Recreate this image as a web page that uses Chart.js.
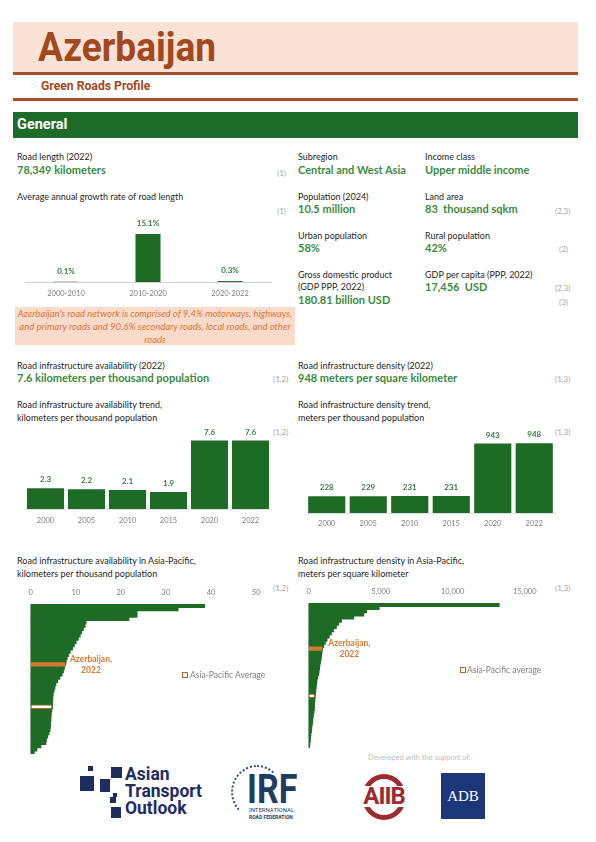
<!DOCTYPE html>
<html><head><meta charset="utf-8">
<script src="https://cdn.jsdelivr.net/npm/chart.js@4.4.0/dist/chart.umd.min.js"></script>
<style>
html,body{margin:0;padding:0;background:#fff;}
#page{position:relative;width:596px;height:842px;overflow:hidden;font-family:Lato,"Open Sans",sans-serif;}
.t{position:absolute;white-space:nowrap;line-height:12px;}
.lab{font-size:9px;color:#262626;}
.val{font-size:11px;font-weight:700;color:#3B8A3F;}
.ref{font-size:8px;color:#a6a6a6;}
.box{position:absolute;}
canvas{position:absolute;}
.sq{position:absolute;background:#1E2D5F;}
</style></head>
<body><div id="page">
<!-- header -->
<div class="box" style="left:13px;top:22px;width:565px;height:51px;background:#FBE2D6"></div>
<div class="box" style="left:13px;top:72px;width:565px;height:3px;background:#A0522D"></div>
<div class="t" style="left:38px;top:26px;font-family:Roboto,sans-serif;font-weight:700;font-size:40px;line-height:44px;color:#A3481D;transform:scaleX(0.927);transform-origin:0 0">Azerbaijan</div>
<div class="t" style="left:41px;top:80px;font-family:Roboto,sans-serif;font-weight:700;font-size:12.2px;color:#A3481D">Green Roads Profile</div>
<div class="box" style="left:13px;top:98px;width:565px;height:3px;background:#A0522D"></div>
<div class="box" style="left:13px;top:112px;width:565px;height:26px;background:#1E6B2A"></div>
<div class="t" style="left:17px;top:117px;font-family:Roboto,sans-serif;font-weight:700;font-size:14.5px;line-height:16px;color:#fff">General</div>

<!-- general left -->
<div class="t lab" style="left:17px;top:151px">Road length (2022)</div>
<div class="t val" style="left:17px;top:164px">78,349 kilometers</div>
<div class="t ref" style="left:277px;top:167px">(1)</div>
<div class="t lab" style="left:17px;top:191px">Average annual growth rate of road length</div>
<div class="t ref" style="left:277px;top:205px">(1)</div>
<canvas id="growth" width="256" height="88" style="left:20px;top:214px"></canvas>
<div class="box" style="left:15px;top:307px;width:280px;height:38px;background:#FADBC9"></div>
<div class="t" style="left:10px;top:307px;width:290px;text-align:center;font-style:italic;font-size:9.5px;line-height:13.2px;color:#D9763B">Azerbaijan's road network is comprised of 9.4% motorways, highways,<br>and primary roads and 90.6% secondary roads, local roads, and other<br>roads</div>

<!-- general right -->
<div class="t lab" style="left:298px;top:151px">Subregion</div>
<div class="t val" style="left:298px;top:164px">Central and West Asia</div>
<div class="t lab" style="left:425px;top:151px">Income class</div>
<div class="t val" style="left:425px;top:164px">Upper middle income</div>
<div class="t lab" style="left:298px;top:191px">Population (2024)</div>
<div class="t val" style="left:298px;top:203px">10.5 million</div>
<div class="t lab" style="left:425px;top:191px">Land area</div>
<div class="t val" style="left:425px;top:203px">83&nbsp; thousand sqkm</div>
<div class="t ref" style="left:555px;top:205px">(2,3)</div>
<div class="t lab" style="left:298px;top:230px">Urban population</div>
<div class="t val" style="left:298px;top:242px">58%</div>
<div class="t lab" style="left:425px;top:230px">Rural population</div>
<div class="t val" style="left:425px;top:242px">42%</div>
<div class="t ref" style="left:559px;top:243px">(2)</div>
<div class="t lab" style="left:298px;top:269px">Gross domestic product</div>
<div class="t lab" style="left:298px;top:281px">(GDP PPP, 2022)</div>
<div class="t val" style="left:298px;top:294px">180.81 billion USD</div>
<div class="t lab" style="left:425px;top:269px">GDP per capita (PPP, 2022)</div>
<div class="t val" style="left:425px;top:281px">17,456&nbsp; USD</div>
<div class="t ref" style="left:555px;top:282px">(2,3)</div>
<div class="t ref" style="left:559px;top:296px">(3)</div>

<!-- section 2 -->
<div class="t lab" style="left:17px;top:360px">Road infrastructure availability (2022)</div>
<div class="t val" style="left:17px;top:372px">7.6 kilometers per thousand population</div>
<div class="t ref" style="left:273px;top:373px">(1,2)</div>
<div class="t lab" style="left:17px;top:399px">Road infrastructure availability trend,</div>
<div class="t lab" style="left:17px;top:412px">kilometers per thousand population</div>
<div class="t ref" style="left:273px;top:426px">(1,2)</div>
<canvas id="trendAvail" width="256" height="105" style="left:20px;top:424px"></canvas>

<div class="t lab" style="left:298px;top:360px">Road infrastructure density (2022)</div>
<div class="t val" style="left:298px;top:372px">948 meters per square kilometer</div>
<div class="t ref" style="left:555px;top:373px">(1,3)</div>
<div class="t lab" style="left:298px;top:399px">Road infrastructure density trend,</div>
<div class="t lab" style="left:298px;top:412px">meters per thousand population</div>
<div class="t ref" style="left:555px;top:426px">(1,3)</div>
<canvas id="trendDensity" width="258" height="106" style="left:301px;top:427px"></canvas>

<!-- section 3 -->
<div class="t lab" style="left:17px;top:555px">Road infrastructure availability in Asia-Pacific,</div>
<div class="t lab" style="left:17px;top:568px">kilometers per thousand population</div>
<div class="t ref" style="left:273px;top:582px">(1,2)</div>
<canvas id="apAvail" width="245" height="174" style="left:22px;top:580px"></canvas>
<div class="box" style="left:182px;top:672px;width:4px;height:4px;border:1px solid #B5652E;background:#fff"></div>
<div class="t" style="left:190px;top:669px;font-size:8.5px;color:#7f7f7f">Asia-Pacific Average</div>

<div class="t lab" style="left:298px;top:555px">Road infrastructure density in Asia-Pacific,</div>
<div class="t lab" style="left:298px;top:568px">meters per square kilometer</div>
<div class="t ref" style="left:555px;top:582px">(1,3)</div>
<canvas id="apDensity" width="243" height="169" style="left:300px;top:579px"></canvas>
<div class="box" style="left:460px;top:667px;width:4px;height:4px;border:1px solid #B5652E;background:#fff"></div>
<div class="t" style="left:467px;top:664px;font-size:8.5px;color:#7f7f7f">Asia-Pacific average</div>

<!-- footer -->
<div class="t" style="left:368px;top:752px;font-size:7.5px;color:#bdbdbd">Developed with the support of:</div>
<div class="sq" style="left:88px;top:766px;width:5px;height:5px"></div>
<div class="sq" style="left:80px;top:776px;width:14px;height:15px"></div>
<div class="sq" style="left:111px;top:767px;width:11px;height:11px"></div>
<div class="sq" style="left:100px;top:779px;width:10px;height:13px"></div>
<div class="sq" style="left:113px;top:793px;width:4px;height:4px"></div>
<div class="sq" style="left:110px;top:797px;width:6px;height:6px"></div>
<div class="sq" style="left:111px;top:807px;width:10px;height:11px"></div>
<div class="t" style="left:125px;top:766px;font-family:Roboto,sans-serif;font-weight:700;font-size:17.5px;line-height:17px;color:#1E2D5F">Asian<br>Transport<br>Outlook</div>
<div class="box" style="left:231px;top:765px;width:48px;height:50px;border-radius:50%;border:2px dotted #2F5373;border-right-color:transparent;border-bottom-color:transparent"></div>
<div class="t" style="left:247px;top:772px;font-family:Roboto,sans-serif;font-weight:700;font-size:40px;line-height:36px;color:#1F3D5E;transform:scaleX(0.85);transform-origin:0 0">IRF</div>
<div class="t" style="left:249px;top:806px;font-family:Roboto,sans-serif;font-size:6px;line-height:7px;color:#1F3D5E">INTERNATIONAL</div>
<div class="t" style="left:249px;top:814px;font-family:Roboto,sans-serif;font-weight:700;font-size:5px;line-height:6px;color:#1F3D5E">ROAD FEDERATION</div>
<div class="box" style="left:362px;top:774px;width:44px;height:46px;box-sizing:border-box;border:5px solid #9C2A2E;border-radius:50%"></div>
<div class="box" style="left:356px;top:786px;width:56px;height:21px;background:#fff"></div>
<div class="t" style="left:358px;top:784px;width:52px;text-align:center;font-family:Roboto,sans-serif;font-weight:700;font-size:24px;line-height:24px;color:#9C2A2E;letter-spacing:-1px">AIIB</div>
<div class="box" style="left:441px;top:773px;width:44px;height:46px;background:#1B3679"></div>
<div class="t" style="left:441px;top:773px;width:44px;text-align:center;font-family:'Liberation Serif','DejaVu Serif',serif;font-size:15px;line-height:46px;color:#fff">ADB</div>
</div>

<script>
// ---------- data ----------
const growthPeriods = ['2000-2010', '2010-2020', '2020-2022'];
const growthRates = [0.1, 15.1, 0.3];

const trendYears = ['2000', '2005', '2010', '2015', '2020', '2022'];
const availTrend = [2.3, 2.2, 2.1, 1.9, 7.6, 7.6];
const densityTrend = [228, 229, 231, 231, 943, 948];

// Asia-Pacific economies sorted descending (km per thousand population)
const apAvailValues = [38.5, 32.6, 23.5, 23.5, 21.7, 12.2, 12.0, 11.6, 11.2, 10.9, 10.5, 10.0, 9.6, 9.2, 8.7, 8.3, 8.0, 7.8,
  7.6, 7.4, 7.2, 6.9, 6.4, 5.9, 5.5, 5.3, 5.1, 4.9, 4.85, 4.8, 4.75, 4.8, 4.6, 4.5, 4.4, 4.4, 4.3, 4.3, 4.2, 4.0, 3.7, 3.4, 3.3, 2.2, 1.3, 0.7];
const apAvailAzIndex = 18;
const apAvailAvgIndex = 31;
const apAvailTicks = [0, 10, 20, 30, 40, 50];

// Asia-Pacific economies sorted descending (m per sq km)
const apDensityValues = [13200, 4870, 4000, 3800, 3100, 2250, 2050, 1900, 1700, 1550, 1400, 1250, 1130, 1020, 948, 900, 870, 850, 800, 760,
  730, 700, 660, 600, 550, 530, 500, 470, 450, 430, 410, 390, 380, 370, 340, 300, 270, 250, 220, 190, 170, 130, 110, 90, 60, 30];
const apDensityAzIndex = 14;
const apDensityAvgIndex = 29;
const apDensityTicks = [0, 5000, 10000, 15000];

const azLabel = ['Azerbaijan,', '2022'];

// ---------- styles ----------
const GREEN = '#1E6B26';
const ORANGE = '#D57A35';
const AVG_BORDER = '#B5652E';
const TICK = '#7f7f7f';

Chart.defaults.font.family = 'Lato, "Open Sans", sans-serif';
Chart.defaults.animation = false;
Chart.defaults.plugins.legend.display = false;
Chart.defaults.plugins.tooltip.enabled = false;

const barLabels = {
  id: 'barLabels',
  afterDatasetsDraw(chart, args, opts) {
    if (!opts || !opts.show) return;
    const ctx = chart.ctx;
    const meta = chart.getDatasetMeta(0);
    const data = chart.data.datasets[0].data;
    ctx.save();
    ctx.font = opts.font; ctx.fillStyle = opts.color;
    ctx.textAlign = 'center'; ctx.textBaseline = 'middle';
    meta.data.forEach((bar, i) => ctx.fillText(opts.format(data[i]), bar.x, bar.y + opts.offset));
    ctx.restore();
  }
};
const hlLabel = {
  id: 'hlLabel',
  afterDatasetsDraw(chart, args, opts) {
    if (!opts || !opts.lines) return;
    const el = chart.getDatasetMeta(1).data[opts.index];
    const ctx = chart.ctx;
    ctx.save();
    ctx.font = 'bold 8.5px Lato, sans-serif'; ctx.fillStyle = ORANGE;
    ctx.textAlign = 'center'; ctx.textBaseline = 'middle';
    ctx.fillText(opts.lines[0], el.x + opts.dx, el.y - 5.5);
    ctx.fillText(opts.lines[1], el.x + opts.dx, el.y + 5.5);
    ctx.restore();
  }
};
Chart.register(barLabels, hlLabel);

function verticalBar(id, labels, values, max, barPct, padTop, padL, padR, tickPad, lblOffset, fmt, borderCol) {
  return new Chart(document.getElementById(id), {
    type: 'bar',
    data: { labels: labels, datasets: [{ data: values, backgroundColor: GREEN, barPercentage: barPct, categoryPercentage: 1 }] },
    options: {
      responsive: false,
      layout: { padding: { top: padTop, left: padL, right: padR, bottom: 0 } },
      scales: {
        x: {
          grid: { display: false, drawTicks: false },
          border: { display: true, color: borderCol, width: 1 },
          ticks: { color: TICK, font: { size: 7.5 }, padding: tickPad, maxRotation: 0 },
          afterFit: s => { s.height = 20; }
        },
        y: { display: false, min: 0, max: max }
      },
      plugins: { barLabels: { show: true, offset: lblOffset, font: 'bold 8px Lato, sans-serif', color: '#3D7A43', format: fmt } }
    }
  });
}

verticalBar('growth', growthPeriods, growthRates, 20.1, 0.305, 4, 5, 5, 7, -10.5, v => v.toFixed(1) + '%', '#cfcfcf');
verticalBar('trendAvail', trendYears, availTrend, 9.0, 0.905, 4, 5, 5, 7, -8.5, v => v.toFixed(1), '#e3e3e3');
verticalBar('trendDensity', trendYears, densityTrend, 1114, 0.895, 4, 5, 4, 6.5, -8.5, v => String(v), '#e3e3e3');

function apChart(id, values, azIdx, avgIdx, ticks, padR, dx) {
  const labels = values.map((v, i) => i === azIdx ? 'Azerbaijan' : (i === avgIdx ? 'Asia-Pacific average' : ''));
  const hl = values.map((v, i) => (i === azIdx || i === avgIdx) ? v : null);
  const hlBg = values.map((v, i) => i === azIdx ? ORANGE : '#ffffff');
  const hlBorder = values.map((v, i) => i === azIdx ? ORANGE : AVG_BORDER);
  const hlBw = values.map((v, i) => i === azIdx ? 0 : 1);
  return new Chart(document.getElementById(id), {
    type: 'bar',
    data: {
      labels: labels,
      datasets: [
        { data: values, backgroundColor: GREEN, barPercentage: 1, categoryPercentage: 1, grouped: false, order: 1, inflateAmount: 0.8 },
        { data: hl, backgroundColor: hlBg, borderColor: hlBorder, borderWidth: hlBw, borderSkipped: false,
          barPercentage: 1.35, categoryPercentage: 1, grouped: false, order: 0, inflateAmount: 0 }
      ]
    },
    options: {
      indexAxis: 'y',
      responsive: false,
      layout: { padding: { top: 4, left: 5, right: padR, bottom: 0 } },
      scales: {
        x: {
          position: 'top', min: ticks[0], max: ticks[ticks.length - 1],
          grid: { display: false, drawTicks: false },
          border: { display: false },
          ticks: { stepSize: ticks[1] - ticks[0], color: TICK, font: { size: 7.5 }, padding: 6.5, maxRotation: 0 },
          afterFit: s => { s.height = 20; }
        },
        y: {
          grid: { display: false, drawTicks: false },
          border: { display: true, color: '#d9d9d9', width: 1 },
          ticks: { display: false }
        }
      },
      plugins: { hlLabel: { index: azIdx, lines: azLabel, dx: dx } }
    }
  });
}

apChart('apAvail', apAvailValues, apAvailAzIndex, apAvailAvgIndex, apAvailTicks, 10, 26);
apChart('apDensity', apDensityValues, apDensityAzIndex, apDensityAvgIndex, apDensityTicks, 14, 27);
</script>
</body></html>
